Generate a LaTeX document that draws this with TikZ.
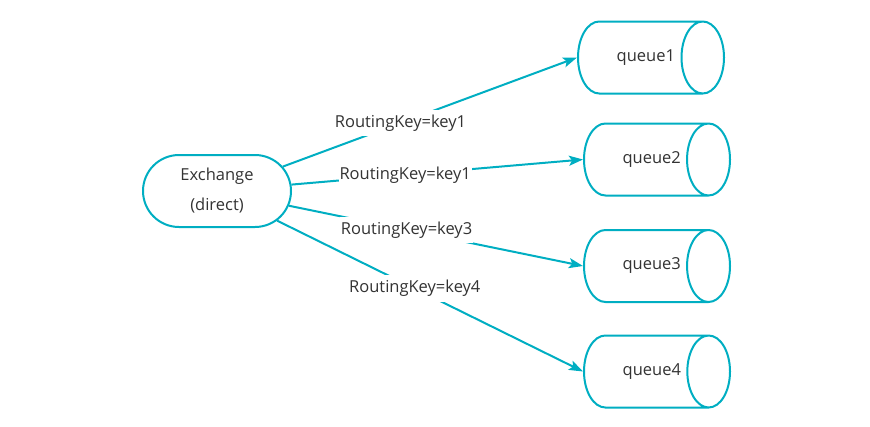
\documentclass[tikz,border=0pt]{standalone}
\usepackage{fontspec}
\setmainfont{Open Sans}
\usepackage{xcolor}
\usetikzlibrary{shapes.geometric, shapes.misc, arrows.meta}

\definecolor{mqteal}{HTML}{00AEC2}
\definecolor{mqtext}{HTML}{333333}

\begin{document}
\begin{tikzpicture}[
    x=1pt, y=-1pt,
    font=\fontsize{16.5}{30}\selectfont, text=mqtext,
    exchange/.style={
        rounded rectangle, draw=mqteal, line width=2pt, fill=white,
        minimum width=148pt, minimum height=72pt,
        align=center, inner sep=0pt
    },
    queue/.style={
        cylinder, draw=mqteal, line width=2pt, fill=white,
        minimum width=72pt, minimum height=146pt, aspect=2.7,
        shape border rotate=0, inner sep=0pt, anchor=west
    },
    binding/.style={-{Stealth[length=14pt, width=10pt, inset=3pt]}, draw=mqteal, line width=2pt},
    routekey/.style={fill=white, inner xsep=1pt, inner ysep=5pt}
]
\useasboundingbox (0,0) rectangle (870,426);

% 1. Exchange
\node[exchange] (exchange) at (217,191) {Exchange\\(direct)};

% 2. Queues (placed by their left ends, names pushed right of centre)
\node[queue] (queue1) at (577,57.5) {\hspace*{12pt}queue1};
\node[queue] (queue2) at (583,159.5) {\hspace*{12pt}queue2};
\node[queue] (queue3) at (583,266) {\hspace*{12pt}queue3};
\node[queue] (queue4) at (583,371.5) {\hspace*{12pt}queue4};

% 3. Bindings
\draw[binding] (exchange) -- node[routekey, pos=0.40] {RoutingKey=key1} (queue1.west);
\draw[binding] (exchange) -- node[routekey, pos=0.39] {RoutingKey=key1} (queue2.west);
\draw[binding] (exchange) -- node[routekey, pos=0.40] {RoutingKey=key3} (queue3.west);
\draw[binding] (exchange) -- node[routekey, pos=0.45] {RoutingKey=key4} (queue4.west);

\end{tikzpicture}
\end{document}
